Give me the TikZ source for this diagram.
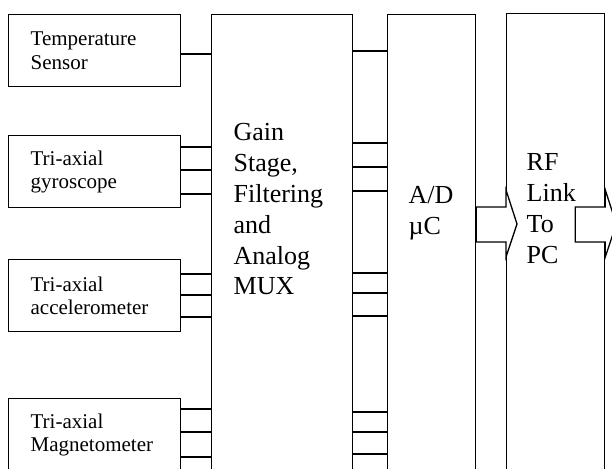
\documentclass[tikz,border=0pt]{standalone}
\usepackage{fontspec}
\setmainfont{Liberation Serif}
\usetikzlibrary{positioning}

\tikzset{
  sensor/.style={draw, rectangle, anchor=north west, minimum width=172pt, minimum height=72pt,
    inner xsep=22pt, text width=128pt, align=left, font=\fontsize{21}{23.3}\selectfont},
  stage/.style={draw, rectangle, anchor=north west},
  caption/.style={anchor=north west, inner sep=0pt, align=left, font=\fontsize{26}{30.8}\selectfont},
  wire/.style={line width=1.3pt},
  blockarrow/.style={draw, fill=white, line width=1.3pt, line join=miter}
}

\begin{document}
\begin{tikzpicture}[x=1pt, y=-1pt, line width=1.3pt]
  \useasboundingbox (0,0) rectangle (612,468);
  \clip (0,0) rectangle (612,468);

  % sensor boxes
  \node (temp) [sensor] at (8,14) {Temperature\\Sensor};
  \node (gyro) [sensor] at (8,135) {Tri-axial\\gyroscope};
  \node (accel) [sensor] at (8,259) {Tri-axial\\accelerometer};
  \node (mag) [sensor] at (8,398) {Tri-axial\\Magnetometer};

  % processing stages
  \node (gain) [stage, minimum width=141pt, minimum height=470pt] at (211,14) {};
  \node (ad) [stage, minimum width=88pt, minimum height=470pt] at (387,14) {};
  \node (rf) [stage, minimum width=98pt, minimum height=470pt] at (506,12.7) {};
  \node (gaintext) [caption] at (233,123) {Gain\\Stage,\\Filtering\\and\\Analog\\MUX};
  \node (adtext) [caption] at (408,186) {A/D\\µC};
  \node (rftext) [caption] at (526,153) {RF\\Link\\To\\PC};

  % sensor lines into the MUX
  \draw[wire] (temp.east |- 0,54) -- (gain.west |- 0,54);
  \draw[wire] (gyro.east |- 0,147) -- (gain.west |- 0,147)
              (gyro.east |- 0,170) -- (gain.west |- 0,170)
              (gyro.east |- 0,194) -- (gain.west |- 0,194);
  \draw[wire] (accel.east |- 0,274) -- (gain.west |- 0,274)
              (accel.east |- 0,295) -- (gain.west |- 0,295)
              (accel.east |- 0,317) -- (gain.west |- 0,317);
  \draw[wire] (mag.east |- 0,409) -- (gain.west |- 0,409)
              (mag.east |- 0,432) -- (gain.west |- 0,432)
              (mag.east |- 0,457) -- (gain.west |- 0,457);

  % MUX outputs to the A/D
  \draw[wire] (gain.east |- 0,51) -- (ad.west |- 0,51);
  \draw[wire] (gain.east |- 0,143) -- (ad.west |- 0,143)
              (gain.east |- 0,167) -- (ad.west |- 0,167)
              (gain.east |- 0,191) -- (ad.west |- 0,191);
  \draw[wire] (gain.east |- 0,273) -- (ad.west |- 0,273)
              (gain.east |- 0,293) -- (ad.west |- 0,293)
              (gain.east |- 0,316) -- (ad.west |- 0,316);
  \draw[wire] (gain.east |- 0,412) -- (ad.west |- 0,412)
              (gain.east |- 0,432) -- (ad.west |- 0,432)
              (gain.east |- 0,454) -- (ad.west |- 0,454);

  % block arrows
  \draw[blockarrow] (ad.east |- 0,207) -- (rf.west |- 0,207) -- ++(0,-17) -- ++(11,34)
    -- ++(-11,33) -- ++(0,-15) -- (ad.east |- 0,242) -- cycle;
  \draw[blockarrow] ([xshift=-30pt]rf.east |- 0,207) -- (rf.east |- 0,207) -- ++(0,-17) -- ++(11,34)
    -- ++(-11,33) -- ++(0,-15) -- ([xshift=-30pt]rf.east |- 0,242) -- cycle;
\end{tikzpicture}
\end{document}
